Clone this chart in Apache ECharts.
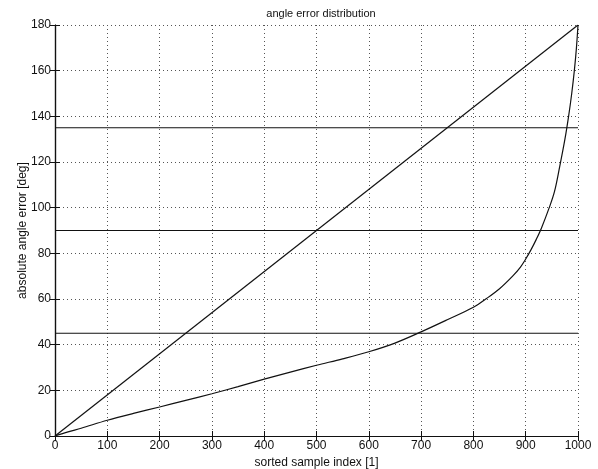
<!DOCTYPE html>
<html lang="en">
<head>
    <meta charset="UTF-8">
    <title>angle error distribution</title>
    <script type="text/javascript" src="https://cdn.jsdelivr.net/npm/echarts@6/dist/echarts.min.js"></script>
</head>
<style>
    html, body {
        margin: 0;
        padding: 0;
        background-color: #fff;
    }
    #chart {
        width: 598px;
        height: 469px;
    }
</style>
<body>
<div id="chart"></div>
</body>
<script>
    // sorted error curve
    var sampleIdx = [0, 25, 50, 100, 150, 200, 250, 300, 350, 400, 450, 500, 550, 600, 650, 700, 750, 800, 825, 850, 875, 890, 900, 910, 920, 930, 945, 955, 965, 975, 982, 988, 993, 997, 1000];
    var angleErr = [0, 1.8, 3.4, 6.9, 9.9, 12.7, 15.6, 18.5, 21.6, 24.9, 28.0, 31.0, 33.8, 36.9, 40.7, 45.6, 50.9, 56.4, 60.2, 64.5, 70.0, 74.0, 77.5, 81.5, 86.0, 91.0, 100.0, 107.0, 118.0, 130.0, 140.0, 150.0, 160.0, 170.0, 180.0];

    // reference lines
    var diagX = [0, 1000];
    var diagY = [0, 180];
    var levels = [45, 90, 135];

    function pairs(xs, ys) {
        var out = [];
        for (var i = 0; i < xs.length; i++) {
            out.push([xs[i], ys[i]]);
        }
        return out;
    }

    var font = 'Liberation Sans, Arial, sans-serif';
    var lineStyle = { color: '#111', width: 1.2 };

    var series = [
        {
            type: 'line',
            data: pairs(sampleIdx, angleErr),
            showSymbol: false,
            smooth: 0.35,
            lineStyle: lineStyle
        },
        {
            type: 'line',
            data: pairs(diagX, diagY),
            showSymbol: false,
            lineStyle: lineStyle
        }
    ];
    levels.forEach(function (v) {
        series.push({
            type: 'line',
            data: pairs(diagX, [v, v]),
            showSymbol: false,
            lineStyle: lineStyle
        });
    });

    var myChart = echarts.init(document.getElementById('chart'));

    var option = {
        animation: false,
        backgroundColor: '#fff',
        title: {
            text: 'angle error distribution',
            left: 316,
            textAlign: 'center',
            top: 3,
            textStyle: { fontFamily: font, fontSize: 11, fontWeight: 'normal', color: '#111' }
        },
        grid: { left: 55, right: 20, top: 25, bottom: 33, outerBoundsMode: 'none' },
        xAxis: [
            {
                type: 'value',
                min: 0, max: 1000, interval: 100,
                name: 'sorted sample index [1]',
                nameLocation: 'middle',
                nameGap: 19,
                nameTextStyle: { fontFamily: font, fontSize: 12, color: '#111' },
                axisLine: { lineStyle: { color: '#111', width: 1.2 } },
                axisTick: { inside: true, length: 5, lineStyle: { color: '#111' } },
                axisLabel: {
                    fontFamily: font, fontSize: 12, color: '#111', margin: 4,
                    formatter: function (v) { return String(v); }
                },
                splitLine: { show: true, lineStyle: { color: '#555', type: [1, 3], width: 1 } }
            },
            {
                type: 'value',
                position: 'top',
                min: 0, max: 1000, interval: 100,
                axisLine: { show: true, lineStyle: { color: '#111', width: 1.2 } },
                axisTick: { show: true, inside: true, length: 5, lineStyle: { color: '#111' } },
                axisLabel: { show: false },
                splitLine: { show: false }
            }
        ],
        yAxis: [
            {
                type: 'value',
                min: 0, max: 180, interval: 20,
                name: 'absolute angle error [deg]',
                nameLocation: 'middle',
                nameGap: 26,
                nameMoveOverlap: false,
                nameTextStyle: { fontFamily: font, fontSize: 12, color: '#111' },
                axisLine: { show: true, lineStyle: { color: '#111', width: 1.2 } },
                axisTick: { show: true, inside: true, length: 5, lineStyle: { color: '#111' } },
                axisLabel: { fontFamily: font, fontSize: 12, color: '#111', margin: 4 },
                splitLine: { show: true, lineStyle: { color: '#555', type: [1, 3], width: 1 } }
            },
            {
                type: 'value',
                position: 'right',
                min: 0, max: 180, interval: 20,
                axisLine: { show: true, lineStyle: { color: '#111', width: 1.2 } },
                axisTick: { show: true, inside: true, length: 5, lineStyle: { color: '#111' } },
                axisLabel: { show: false },
                splitLine: { show: false }
            }
        ],
        series: series
    };
    myChart.setOption(option);
</script>
</html>
